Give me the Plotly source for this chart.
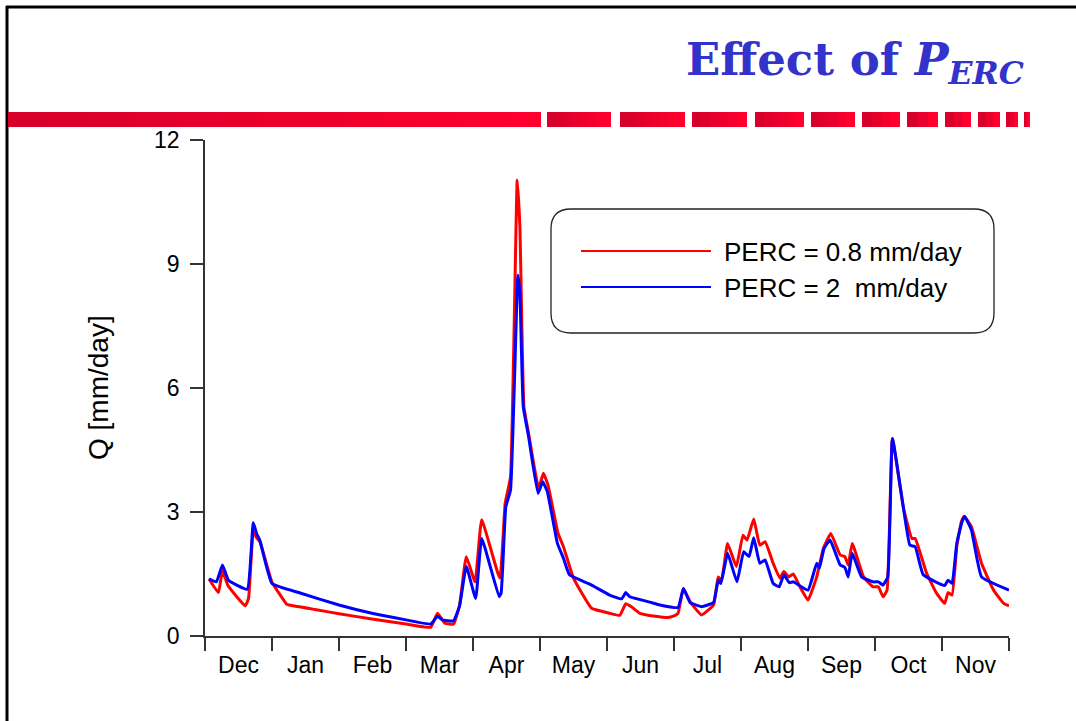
import plotly.graph_objects as go

# ---- data: discharge Q [mm/day] vs. time (x in months from 1 Dec) ----
months = ["Dec", "Jan", "Feb", "Mar", "Apr", "May", "Jun",
          "Jul", "Aug", "Sep", "Oct", "Nov"]

red_t = [0.06, 0.20, 0.26, 0.34, 0.60, 0.65, 0.72, 0.77, 0.82, 1.00, 1.12, 1.22,
         1.32, 1.64, 2.00, 2.49, 3.00, 3.37, 3.47, 3.58, 3.71, 3.80, 3.90, 4.03,
         4.13, 4.40, 4.48, 4.56, 4.66, 4.70, 4.76, 4.83, 4.98, 5.05, 5.12, 5.27,
         5.35, 5.50, 5.77, 6.04, 6.19, 6.28, 6.37, 6.49, 6.72, 6.91, 6.99, 7.06,
         7.14, 7.24, 7.41, 7.59, 7.66, 7.71, 7.80, 7.93, 8.03, 8.09, 8.19, 8.28,
         8.36, 8.48, 8.58, 8.64, 8.71, 8.78, 8.88, 9.00, 9.13, 9.23, 9.34, 9.48,
         9.55, 9.60, 9.66, 9.83, 9.97, 10.05, 10.12, 10.18, 10.26, 10.42, 10.55,
         10.60, 10.77, 10.92, 11.04, 11.09, 11.15, 11.22, 11.29, 11.33, 11.44,
         11.59, 11.77, 11.92, 12.00]
red_q = [1.38, 1.05, 1.58, 1.23, 0.73, 0.91, 2.52, 2.38, 2.28, 1.30, 1.00, 0.77,
         0.73, 0.64, 0.54, 0.41, 0.29, 0.21, 0.55, 0.31, 0.29, 0.75, 1.92, 1.31,
         2.81, 1.40, 3.21, 3.85, 11.03, 9.90, 5.55, 4.90, 3.57, 3.94, 3.65, 2.48,
         2.16, 1.40, 0.67, 0.55, 0.50, 0.78, 0.70, 0.55, 0.48, 0.45, 0.48, 0.55,
         1.15, 0.83, 0.51, 0.75, 1.43, 1.35, 2.24, 1.68, 2.44, 2.32, 2.83, 2.20,
         2.28, 1.76, 1.40, 1.56, 1.43, 1.50, 1.19, 0.87, 1.43, 2.12, 2.48, 1.96,
         1.92, 1.72, 2.24, 1.43, 1.19, 1.19, 0.95, 1.11, 4.78, 3.13, 2.36,
         2.36, 1.52, 1.03, 0.79, 1.05, 0.99, 2.16, 2.77, 2.90, 2.64,
         1.76, 1.11, 0.79, 0.73]

blue_t = [0.06, 0.17, 0.26, 0.35, 0.63, 0.72, 0.77, 0.82, 1.00, 1.42, 2.00, 2.49,
          3.00, 3.37, 3.47, 3.54, 3.71, 3.80, 3.90, 4.04, 4.13, 4.39, 4.42, 4.49,
          4.56, 4.67, 4.70, 4.75, 4.83, 4.97, 5.04, 5.11, 5.26, 5.35, 5.44, 5.75,
          6.04, 6.22, 6.28, 6.34, 6.64, 6.79, 7.06, 7.14, 7.24, 7.41, 7.59, 7.66,
          7.70, 7.80, 7.94, 8.04, 8.12, 8.19, 8.28, 8.36, 8.48, 8.57, 8.64, 8.72,
          8.78, 9.00, 9.13, 9.17, 9.24, 9.33, 9.48, 9.55, 9.60, 9.66, 9.80, 9.97,
          10.05, 10.12, 10.19, 10.26, 10.40, 10.52, 10.60, 10.72, 11.04, 11.09,
          11.15, 11.22, 11.30, 11.34, 11.44, 11.59, 12.00]
blue_q = [1.38, 1.31, 1.72, 1.35, 1.13, 2.74, 2.48, 2.31, 1.27, 1.04, 0.75, 0.55,
          0.39, 0.29, 0.48, 0.39, 0.37, 0.73, 1.68, 0.91, 2.36, 0.95, 1.04, 3.13,
          3.53, 8.73, 8.29, 5.55, 4.82, 3.45, 3.73, 3.49, 2.24, 1.88, 1.48, 1.25,
          0.99, 0.90, 1.05, 0.95, 0.82, 0.75, 0.69, 1.15, 0.81, 0.71, 0.81, 1.35,
          1.27, 2.00, 1.31, 2.04, 1.92, 2.38, 1.76, 1.84, 1.27, 1.19, 1.48, 1.29,
          1.31, 1.11, 1.76, 1.64, 2.12, 2.32, 1.72, 1.66, 1.43, 2.00, 1.43, 1.31,
          1.31, 1.23, 1.43, 4.78, 3.37, 2.20, 2.16, 1.48, 1.22, 1.35,
          1.27, 2.24, 2.77, 2.89, 2.56, 1.43, 1.11]

series_names = ["PERC = 0.8 mm/day", "PERC = 2  mm/day"]
series_colors = ["#ff0000", "#0000ff"]

y_ticks = [0, 3, 6, 9, 12]

# ---- page geometry (pixels) ----
W, H = 1076, 721
L, R, T, B = 205, 1009, 140, 636


def px(x):
    return (x - L) / (R - L)


def py(y):
    return (B - y) / (B - T)


fig = go.Figure()
for t, q, name, col in [(red_t, red_q, series_names[0], series_colors[0]),
                        (blue_t, blue_q, series_names[1], series_colors[1])]:
    fig.add_trace(go.Scatter(x=t, y=q, mode="lines", name=name,
                             line=dict(color=col, width=3, shape="spline",
                                       smoothing=0.35),
                             showlegend=False))

shapes = []

# page frame (top and left rules)
shapes.append(dict(type="line", xref="paper", yref="paper",
                   x0=px(6), x1=px(W + 2), y0=py(7), y1=py(7),
                   line=dict(color="black", width=3)))
shapes.append(dict(type="line", xref="paper", yref="paper",
                   x0=px(7), x1=px(7), y0=py(6), y1=py(H + 2),
                   line=dict(color="black", width=3)))

# red banner under the title: a long bar followed by shrinking dashes,
# each painted with a dark-to-bright horizontal gradient
banner = [(8, 541), (547, 611), (620, 685), (692, 747), (755, 804),
          (811, 855), (862, 900), (907, 938), (945, 971), (978, 1000),
          (1006, 1018), (1024, 1030)]
dark, bright = (214, 0, 42), (255, 0, 46)
for a, b in banner:
    n = max(3, int((b - a) / 8))
    for k in range(n):
        f = k / (n - 1)
        c = tuple(int(dark[i] + (bright[i] - dark[i]) * f) for i in range(3))
        x0 = a + (b - a) * k / n
        x1 = min(b, a + (b - a) * (k + 1) / n + 3)
        shapes.append(dict(type="rect", xref="paper", yref="paper",
                           x0=px(x0), x1=px(x1), y0=py(112), y1=py(127),
                           line=dict(width=0), fillcolor="rgb(%d,%d,%d)" % c))

# legend box with rounded corners
bx0, bx1, by0, by1, rad = 551, 994, 209, 333, 20
pts = [("M", bx0 + rad, by0), ("L", bx1 - rad, by0),
       ("Q", bx1, by0, bx1, by0 + rad), ("L", bx1, by1 - rad),
       ("Q", bx1, by1, bx1 - rad, by1), ("L", bx0 + rad, by1),
       ("Q", bx0, by1, bx0, by1 - rad), ("L", bx0, by0 + rad),
       ("Q", bx0, by0, bx0 + rad, by0)]
path = ""
for p in pts:
    cmd, coords = p[0], p[1:]
    path += cmd + " " + " ".join(
        "%.5f,%.5f" % (px(coords[i]), py(coords[i + 1]))
        for i in range(0, len(coords), 2)) + " "
path += "Z"
shapes.append(dict(type="path", xref="paper", yref="paper", path=path,
                   line=dict(color="#222", width=1.3), fillcolor="white",
                   layer="below"))

annotations = []
for i, (name, col) in enumerate(zip(series_names, series_colors)):
    yy = 251 + 36 * i
    shapes.append(dict(type="line", xref="paper", yref="paper",
                       x0=px(581), x1=px(711), y0=py(yy), y1=py(yy),
                       line=dict(color=col, width=2.2)))
    annotations.append(dict(text=name, xref="paper", yref="paper",
                            x=px(722), y=py(yy + 1), xanchor="left",
                            yanchor="middle", showarrow=False,
                            font=dict(family="Liberation Sans, Arial",
                                      size=26, color="black")))

# title
annotations.append(dict(
    text="<b>Effect of <i>P<sub>ERC</sub></i></b>",
    xref="paper", yref="paper", x=px(1026), y=py(62),
    xanchor="right", yanchor="middle", showarrow=False,
    font=dict(family="DejaVu Serif", size=45, color="#3333cc")))

# y-axis title
annotations.append(dict(
    text="Q [mm/day]", xref="paper", yref="paper", x=px(98), y=py(388),
    xanchor="center", yanchor="middle", textangle=-90, showarrow=False,
    font=dict(family="Liberation Sans, Arial", size=28, color="black")))

axis_font = dict(family="Liberation Sans, Arial", size=23, color="black")

fig.update_layout(
    width=W, height=H,
    margin=dict(l=L, r=W - R, t=T, b=H - B),
    paper_bgcolor="white", plot_bgcolor="white",
    showlegend=False,
    shapes=shapes, annotations=annotations,
    xaxis=dict(range=[0, 12], showgrid=False, zeroline=False,
               showline=True, linecolor="#333", linewidth=1.5,
               tickmode="array", tickvals=[m + 0.5 for m in range(12)],
               ticktext=months, ticks="outside", ticklen=8,
               tickcolor="rgba(0,0,0,0)", tickfont=axis_font,
               minor=dict(tickmode="array", tickvals=list(range(13)),
                          ticks="outside", ticklen=13, tickwidth=1.5,
                          tickcolor="#333", showgrid=False)),
    yaxis=dict(range=[0, 12], showgrid=False, zeroline=False,
               showline=True, linecolor="#333", linewidth=1.5,
               tickmode="array", tickvals=y_ticks, ticks="outside",
               ticklen=13, tickwidth=1.5, tickcolor="#333",
               ticklabelstandoff=6, tickfont=axis_font),
)

fig.write_html("out.html")
